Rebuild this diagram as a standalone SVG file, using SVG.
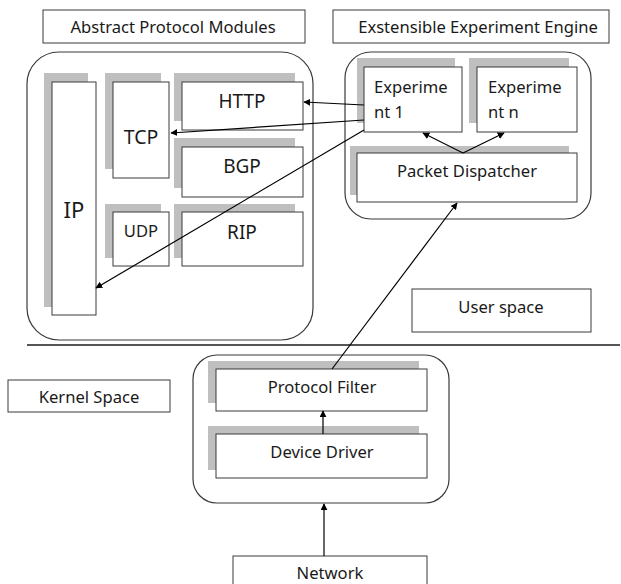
<svg xmlns="http://www.w3.org/2000/svg" width="621" height="584" viewBox="0 0 621 584">
<style>
  .box{fill:#fff;stroke:#3a3a3a;stroke-width:1}
  .sh{fill:#bfbfbf;stroke:none}
  .cont{fill:#fff;stroke:#3a3a3a;stroke-width:1.2}
  text{font-family:"Noto Sans","Open Sans","Liberation Sans",sans-serif;font-size:16.6px;fill:#1a1a1a}
  .c{text-anchor:middle}
  .big{font-size:19px}
  .ln{stroke:#000;stroke-width:1.2;fill:none}
</style>
<defs>
  <marker id="ah" viewBox="0 0 10 10" refX="9" refY="5" markerWidth="7" markerHeight="7" orient="auto" markerUnits="userSpaceOnUse">
    <path d="M0,0 L10,5 L0,10 z" fill="#000"/>
  </marker>
</defs>
<rect width="621" height="584" fill="#fff"/>

<g id="title-apm"><rect class="box" x="43" y="10" width="262" height="33"/><text class="c" x="173" y="33">Abstract Protocol Modules</text></g>
<g id="title-eee"><rect class="box" x="333" y="10" width="276" height="33"/><text class="c" x="478" y="33">Exstensible Experiment Engine</text></g>

<g id="apm"><rect class="cont" x="27" y="52" width="286" height="288" rx="32"/></g>
<g id="ip"><rect class="sh" x="44" y="73" width="44" height="234"/><rect class="box" x="52" y="82" width="44" height="233"/><text class="c" x="74" y="218" style="font-size:22px">IP</text></g>
<g id="tcp"><rect class="sh" x="105" y="73" width="56" height="96"/><rect class="box" x="113" y="82" width="56" height="96"/><text class="c" x="141" y="144" style="font-size:19.5px">TCP</text></g>
<g id="http"><rect class="sh" x="174" y="73" width="121" height="48"/><rect class="box" x="182" y="82" width="121" height="48"/><text class="c big" x="242" y="108">HTTP</text></g>
<g id="bgp"><rect class="sh" x="174" y="138" width="121" height="50"/><rect class="box" x="182" y="147" width="121" height="50"/><text class="c big" x="242" y="173">BGP</text></g>
<g id="udp"><rect class="sh" x="105" y="204" width="56" height="54"/><rect class="box" x="113" y="212" width="56" height="54"/><text class="c" x="141" y="237">UDP</text></g>
<g id="rip"><rect class="sh" x="174" y="204" width="121" height="54"/><rect class="box" x="182" y="212" width="121" height="54"/><text class="c big" x="242" y="239">RIP</text></g>

<g id="eee"><rect class="cont" x="345" y="52" width="246" height="167" rx="26"/></g>
<g id="exp1"><rect class="sh" x="357" y="58" width="98" height="65"/><rect class="box" x="364" y="67" width="98" height="65"/><text x="374" y="93">Experime</text><text x="374" y="118">nt 1</text></g>
<g id="expn"><rect class="sh" x="469" y="58" width="100" height="65"/><rect class="box" x="477" y="67" width="100" height="65"/><text x="488" y="93">Experime</text><text x="488" y="118">nt n</text></g>
<g id="pd"><rect class="sh" x="350" y="146" width="219" height="49"/><rect class="box" x="357" y="153" width="220" height="49"/><text class="c" x="467" y="177">Packet Dispatcher</text></g>

<g id="userspace"><rect class="box" x="412" y="289" width="179" height="43"/><text class="c" x="501" y="313">User space</text></g>
<g id="kernelspace"><rect class="box" x="8" y="380" width="162" height="32"/><text class="c" x="89" y="403">Kernel Space</text></g>

<g id="kernel"><rect class="cont" x="193" y="355" width="256" height="148" rx="24"/></g>
<g id="pf"><rect class="sh" x="208" y="361" width="211" height="42"/><rect class="box" x="216" y="369" width="211" height="42"/><text class="c" x="322" y="393">Protocol Filter</text></g>
<g id="dd"><rect class="sh" x="208" y="426" width="211" height="44"/><rect class="box" x="216" y="434" width="211" height="44"/><text class="c" x="322" y="458">Device Driver</text></g>
<g id="network"><rect class="box" x="233" y="556" width="194" height="40"/><text class="c" x="330" y="579">Network</text></g>

<g id="connectors">
  <line x1="27" y1="345" x2="620" y2="345" stroke="#555" stroke-width="2"/>
  <line class="ln" x1="364" y1="105" x2="304" y2="102" marker-end="url(#ah)"/>
  <line class="ln" x1="364" y1="120" x2="171" y2="133" marker-end="url(#ah)"/>
  <line class="ln" x1="364" y1="130" x2="96" y2="288" marker-end="url(#ah)"/>
  <line class="ln" x1="463" y1="153" x2="423" y2="133" marker-end="url(#ah)"/>
  <line class="ln" x1="463" y1="153" x2="504" y2="133" marker-end="url(#ah)"/>
  <line class="ln" x1="332" y1="369" x2="457" y2="203" marker-end="url(#ah)"/>
  <line class="ln" x1="323" y1="434" x2="323" y2="411" marker-end="url(#ah)"/>
  <line class="ln" x1="324" y1="556" x2="324" y2="504" stroke-width="2" marker-end="url(#ah)"/>
</g>
</svg>
